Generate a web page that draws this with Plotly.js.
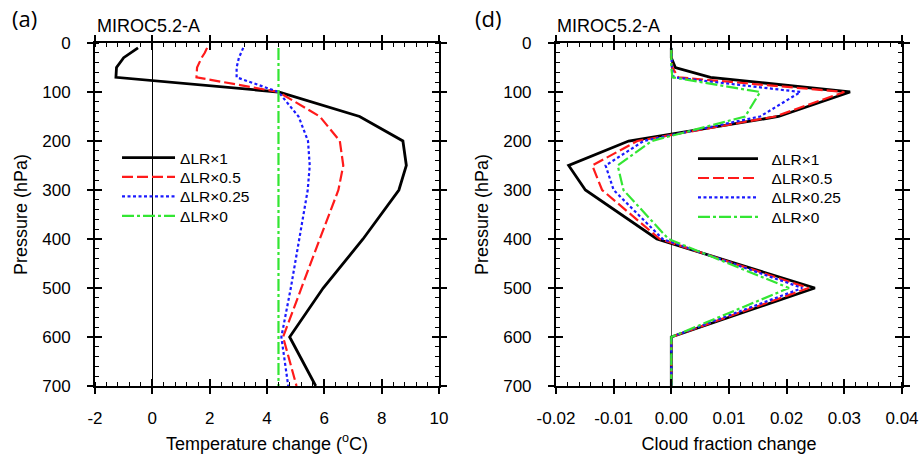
<!DOCTYPE html>
<html>
<head>
<meta charset="utf-8">
<script src="https://cdn.plot.ly/plotly-3.0.1.min.js"></script>
<style>html,body{margin:0;padding:0;background:#fff;}#chart{width:920px;height:456px;}</style>
</head>
<body>
<div id="chart"></div>
<script>
// Pressure levels (hPa)
const levels = [10, 20, 30, 50, 70, 100, 150, 200, 250, 300, 400, 500, 600, 700];
const seriesNames = ['\u0394LR\u00d71', '\u0394LR\u00d70.5', '\u0394LR\u00d70.25', '\u0394LR\u00d70'];

// Panel (a): temperature change (degC)
const tempLR1   = [-0.5, -0.75, -1.0, -1.25, -1.27, 4.4, 7.23, 8.74, 8.86, 8.6, 7.35, 5.96, 4.79, 5.7];
const tempLR05  = [1.91, 1.83, 1.72, 1.56, 1.54, 4.4, 5.84, 6.54, 6.66, 6.49, 5.84, 5.19, 4.56, 5.03];
const tempLR025 = [3.17, 3.1, 3.02, 2.94, 2.94, 4.4, 5.1, 5.43, 5.49, 5.42, 5.13, 4.83, 4.5, 4.74];
const tempLR0   = [4.4, 4.4, 4.4, 4.4, 4.4, 4.4, 4.4, 4.4, 4.4, 4.4, 4.4, 4.4, 4.4, 4.4];

// Panel (d): cloud fraction change
const cldLR1   = [0, 0, 0, 0.0007, 0.0068, 0.031, 0.0186, -0.0074, -0.0178, -0.0149, -0.0025, 0.0249, 0, 0];
const cldLR05  = [0, 0, 0, 0.0002, 0.0012, 0.0300, 0.0180, -0.0059, -0.0137, -0.0120, -0.0020, 0.0238, 0, 0];
const cldLR025 = [0, 0, 0, 0.0001, 0.0004, 0.0224, 0.0154, -0.0048, -0.0114, -0.0100, -0.0015, 0.0227, 0, 0];
const cldLR0   = [0, 0, 0, 0, 0.0002, 0.0154, 0.0128, -0.0034, -0.0093, -0.0083, -0.0005, 0.0204, 0, 0];

// Tick labels
const tempTickVals = [-2, 0, 2, 4, 6, 8, 10];
const tempTickText = ['-2', '0', '2', '4', '6', '8', '10'];
const cldTickVals = [-0.02, -0.01, 0, 0.01, 0.02, 0.03, 0.04];
const cldTickText = ['-0.02', '-0.01', '0.00', '0.01', '0.02', '0.03', '0.04'];
const presTickVals = [0, 100, 200, 300, 400, 500, 600, 700];

const styles = [
  {color: '#000000', width: 2.8, dash: 'solid'},
  {color: '#ff1a1a', width: 2.2, dash: '11px,4px'},
  {color: '#1a1aff', width: 2.2, dash: '3px,2.5px'},
  {color: '#33e633', width: 2.2, dash: '12px,3px,3px,3px'}
];

const FONT = 'Liberation Sans, Arial, Helvetica, sans-serif';
const tempSeries = [tempLR1, tempLR05, tempLR025, tempLR0];
const cldSeries = [cldLR1, cldLR05, cldLR025, cldLR0];

// one single-entry legend per row so the row spacing matches the reference
const leftLegendIds = ['legend', 'legend3', 'legend4', 'legend5'];
const rightLegendIds = ['legend2', 'legend6', 'legend7', 'legend8'];
const leftRowY = [0.6647, 0.6082, 0.5516, 0.4950];
const rightRowY = [0.6618, 0.6052, 0.5487, 0.4921];

const traces = [];
tempSeries.forEach((s, i) => traces.push({
  type: 'scatter', mode: 'lines', x: s, y: levels, name: seriesNames[i],
  line: styles[i], xaxis: 'x', yaxis: 'y', legend: leftLegendIds[i]
}));
cldSeries.forEach((s, i) => traces.push({
  type: 'scatter', mode: 'lines', x: s, y: levels, name: '\u00a0\u00a0' + seriesNames[i],
  line: styles[i], xaxis: 'x2', yaxis: 'y2', legend: rightLegendIds[i]
}));
// empty traces so the overlay axes (inner halves of the major ticks) are drawn
traces.push({type: 'scatter', mode: 'lines', x: [null], y: [null], xaxis: 'x3', yaxis: 'y3', showlegend: false, hoverinfo: 'skip'});
traces.push({type: 'scatter', mode: 'lines', x: [null], y: [null], xaxis: 'x4', yaxis: 'y4', showlegend: false, hoverinfo: 'skip'});

function mainAxis(extra) {
  return Object.assign({
    showline: true, linewidth: 2, linecolor: '#000', mirror: 'ticks',
    ticks: 'outside', ticklen: 6, tickwidth: 2, tickcolor: '#000',
    showgrid: false, zeroline: false,
    tickfont: {family: FONT, size: 17, color: '#000'}
  }, extra);
}
function overlayAxis(extra) {
  return Object.assign({
    showline: false, mirror: 'ticks', ticks: 'inside', ticklen: 7, tickwidth: 2, tickcolor: '#000',
    showticklabels: false, showgrid: false, zeroline: false
  }, extra);
}

const minorX1 = {tickmode: 'linear', tick0: 0, dtick: 0.4, ticks: 'inside', ticklen: 4, tickwidth: 1, tickcolor: '#000', showgrid: false};
const minorX2 = {tickmode: 'linear', tick0: 0, dtick: 0.002, ticks: 'inside', ticklen: 4, tickwidth: 1, tickcolor: '#000', showgrid: false};
const minorY = {tickmode: 'linear', tick0: 0, dtick: 20, ticks: 'inside', ticklen: 4, tickwidth: 1, tickcolor: '#000', showgrid: false};

const titleFont = {family: FONT, size: 18, color: '#000'};

function legendAt(x, y, w) {
  return {
    x: x, y: y, xanchor: 'left', yanchor: 'middle', bgcolor: 'rgba(0,0,0,0)',
    font: {family: FONT, size: 15.5, color: '#000'}, itemwidth: w
  };
}

const layout = {
  width: 920, height: 456,
  margin: {l: 95, r: 18, t: 43, b: 70},
  paper_bgcolor: '#fff', plot_bgcolor: '#fff',
  font: {family: FONT, color: '#000'},
  xaxis: mainAxis({
    domain: [0, 0.4263], range: [-2, 10], tickmode: 'array', tickvals: tempTickVals, ticktext: tempTickText,
    minor: minorX1, zeroline: true, zerolinecolor: '#000', zerolinewidth: 1, anchor: 'y', ticklabelstandoff: 10,
    title: {text: 'Temperature change (<sup>o</sup>C)', font: titleFont, standoff: 10}
  }),
  yaxis: mainAxis({
    range: [700, 0], tickmode: 'array', tickvals: presTickVals, minor: minorY, anchor: 'x', ticklabelstandoff: 13,
    title: {text: 'Pressure (hPa)', font: titleFont, standoff: 10}
  }),
  xaxis2: mainAxis({
    domain: [0.5712, 1], range: [-0.02, 0.04], tickmode: 'array', tickvals: cldTickVals, ticktext: cldTickText,
    minor: minorX2, zeroline: true, zerolinecolor: '#555', zerolinewidth: 1, anchor: 'y2', ticklabelstandoff: 10,
    title: {text: 'Cloud fraction change', font: titleFont, standoff: 10}
  }),
  yaxis2: mainAxis({
    range: [700, 0], tickmode: 'array', tickvals: presTickVals, minor: minorY, anchor: 'x2', ticklabelstandoff: 13,
    title: {text: 'Pressure (hPa)', font: titleFont, standoff: 10}
  }),
  xaxis3: overlayAxis({overlaying: 'x', anchor: 'y', range: [-2, 10], tickmode: 'array', tickvals: tempTickVals}),
  yaxis3: overlayAxis({overlaying: 'y', anchor: 'x', range: [700, 0], tickmode: 'array', tickvals: presTickVals}),
  xaxis4: overlayAxis({overlaying: 'x2', anchor: 'y2', range: [-0.02, 0.04], tickmode: 'array', tickvals: cldTickVals}),
  yaxis4: overlayAxis({overlaying: 'y2', anchor: 'x2', range: [700, 0], tickmode: 'array', tickvals: presTickVals}),
  legend: legendAt(0.0273, leftRowY[0], 53),
  legend3: legendAt(0.0273, leftRowY[1], 53),
  legend4: legendAt(0.0273, leftRowY[2], 53),
  legend5: legendAt(0.0273, leftRowY[3], 53),
  legend2: legendAt(0.741, rightRowY[0], 60),
  legend6: legendAt(0.741, rightRowY[1], 60),
  legend7: legendAt(0.741, rightRowY[2], 60),
  legend8: legendAt(0.741, rightRowY[3], 60),
  showlegend: true,
  annotations: [
    {text: '(a)', xref: 'paper', yref: 'paper', x: -0.0874, y: 1.0743, xanchor: 'center', yanchor: 'middle', showarrow: false, font: {family: 'Open Sans, sans-serif', size: 22, color: '#000'}},
    {text: '(d)', xref: 'paper', yref: 'paper', x: 0.487, y: 1.0743, xanchor: 'center', yanchor: 'middle', showarrow: false, font: {family: 'Open Sans, sans-serif', size: 22, color: '#000'}},
    {text: 'MIROC5.2-A', xref: 'paper', yref: 'paper', x: 0, y: 1.0496, xanchor: 'left', yanchor: 'middle', showarrow: false, font: {family: FONT, size: 18, color: '#000'}},
    {text: 'MIROC5.2-A', xref: 'paper', yref: 'paper', x: 0.570, y: 1.0496, xanchor: 'left', yanchor: 'middle', showarrow: false, font: {family: FONT, size: 18, color: '#000'}}
  ]
};

Plotly.newPlot('chart', traces, layout, {staticPlot: true, displayModeBar: false});
</script>
</body>
</html>
